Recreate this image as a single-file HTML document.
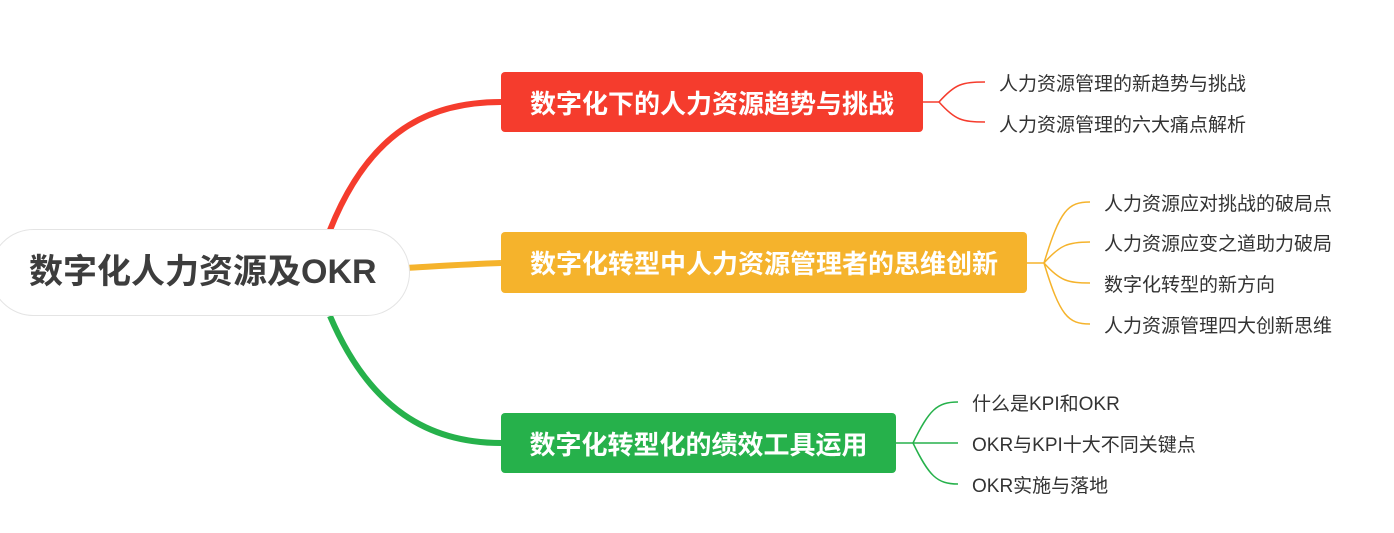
<!DOCTYPE html>
<html><head><meta charset="utf-8"><style>
body{margin:0;width:1394px;height:533px;background:#fff;overflow:hidden;position:relative;font-family:"Liberation Sans","Noto Sans CJK SC",sans-serif}
.b{position:absolute;color:#fff;font-weight:bold;font-size:26px;display:flex;align-items:center;justify-content:center;border-radius:4px}
.l{position:absolute;font-size:19px;color:#333;line-height:20px;white-space:nowrap}
</style></head><body>
<svg width="1394" height="533" style="position:absolute;left:0;top:0" fill="none">
<path d="M330 230 C370 130 430 102 501 102" stroke="#f53c2d" stroke-width="6"/>
<path d="M330 316 C370 410 430 443 501 443" stroke="#26b14b" stroke-width="6"/>
<path d="M405 268 C440 266 470 264 501 263" stroke="#f5b32c" stroke-width="6"/>
<g stroke="#f53c2d" stroke-width="1.5"><path d="M923 102 H939"/><path d="M939 102 C955 84 962 82 985 82"/><path d="M939 102 C955 120 962 122 985 122"/></g>
<g stroke="#f5b32c" stroke-width="1.5"><path d="M1027 263 H1044"/><path d="M1044 263 C1060 210 1068 202 1090 202"/><path d="M1044 263 C1060 245 1068 242 1090 242"/><path d="M1044 263 C1060 281 1068 283 1090 283"/><path d="M1044 263 C1060 316 1068 324 1090 324"/></g>
<g stroke="#26b14b" stroke-width="1.5"><path d="M896 443 H958"/><path d="M913 443 C929 410 937 402 958 402"/><path d="M913 443 C929 476 937 484 958 484"/></g>
</svg>
<div style="position:absolute;left:-10px;top:229px;width:420px;height:87px;border:1.5px solid #e4e4e4;border-radius:44px;background:#fff;box-sizing:border-box"></div>
<div style="position:absolute;left:29px;top:251px;font-size:34px;font-weight:bold;color:#3d3d3d;line-height:42px">数字化人力资源及OKR</div>
<div class="b" style="left:501px;top:72px;width:422px;height:60px;background:#f53c2d">数字化下的人力资源趋势与挑战</div>
<div class="b" style="left:501px;top:232px;width:526px;height:61px;background:#f5b32c">数字化转型中人力资源管理者的思维创新</div>
<div class="b" style="left:501px;top:413px;width:395px;height:60px;background:#26b14b">数字化转型化的绩效工具运用</div>
<div class="l" style="left:999px;top:75px">人力资源管理的新趋势与挑战</div>
<div class="l" style="left:999px;top:116px">人力资源管理的六大痛点解析</div>
<div class="l" style="left:1104px;top:195px">人力资源应对挑战的破局点</div>
<div class="l" style="left:1104px;top:235px">人力资源应变之道助力破局</div>
<div class="l" style="left:1104px;top:276px">数字化转型的新方向</div>
<div class="l" style="left:1104px;top:317px">人力资源管理四大创新思维</div>
<div class="l" style="left:972px;top:395px">什么是KPI和OKR</div>
<div class="l" style="left:972px;top:436px">OKR与KPI十大不同关键点</div>
<div class="l" style="left:972px;top:477px">OKR实施与落地</div>
</body></html>
